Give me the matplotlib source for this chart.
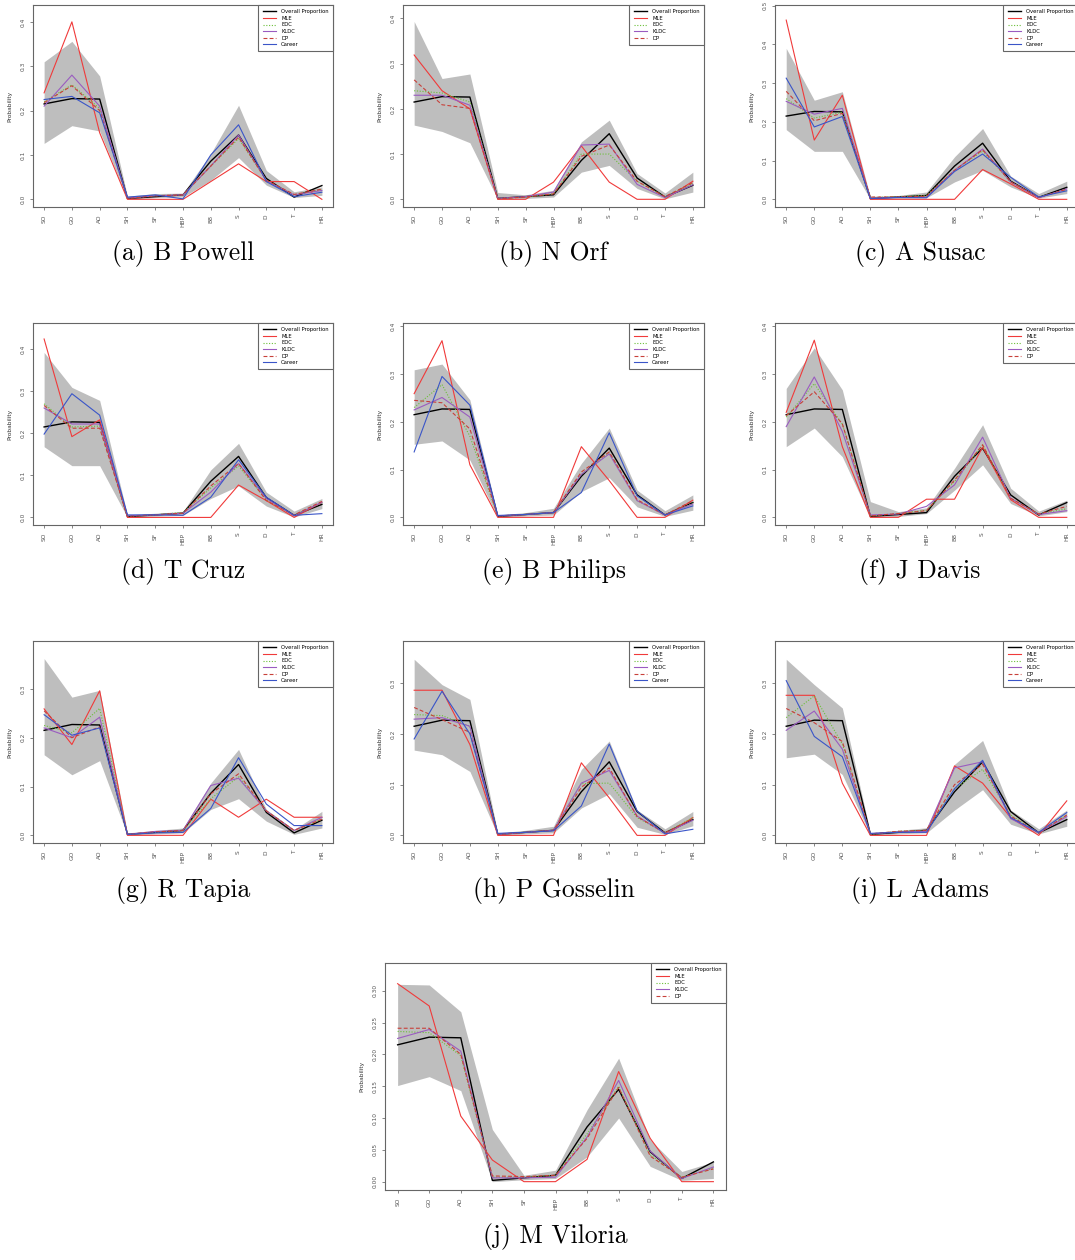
import matplotlib
matplotlib.use("Agg")
import matplotlib.pyplot as plt

cats = ['SO', 'GO', 'AO', 'SH', 'SF', 'HBP', 'BB', 'S', 'D', 'T', 'HR']
overall = [0.215, 0.227, 0.226, 0.002, 0.006, 0.010, 0.086, 0.145, 0.047, 0.005, 0.031]

# (a) B Powell
powell_lo = [0.126, 0.166, 0.154, 0.000, 0.004, 0.005, 0.043, 0.094, 0.032, 0.004, 0.009]
powell_hi = [0.310, 0.356, 0.278, 0.007, 0.013, 0.014, 0.103, 0.212, 0.065, 0.017, 0.028]
powell_mle = [0.240, 0.400, 0.150, 0.000, 0.000, 0.000, 0.040, 0.080, 0.040, 0.040, 0.000]
powell_edc = [0.220, 0.258, 0.205, 0.003, 0.008, 0.010, 0.075, 0.137, 0.043, 0.010, 0.022]
powell_kldc = [0.210, 0.280, 0.210, 0.003, 0.008, 0.010, 0.075, 0.145, 0.042, 0.010, 0.020]
powell_dp = [0.218, 0.256, 0.200, 0.002, 0.008, 0.010, 0.075, 0.140, 0.043, 0.011, 0.023]
powell_career = [0.225, 0.232, 0.195, 0.005, 0.010, 0.001, 0.100, 0.168, 0.040, 0.006, 0.016]

# (b) N Orf
orf_lo = [0.164, 0.150, 0.125, 0.000, 0.002, 0.005, 0.060, 0.075, 0.024, 0.001, 0.016]
orf_hi = [0.393, 0.267, 0.277, 0.015, 0.010, 0.020, 0.127, 0.175, 0.057, 0.014, 0.060]
orf_mle = [0.319, 0.240, 0.200, 0.000, 0.000, 0.038, 0.118, 0.038, 0.000, 0.000, 0.040]
orf_edc = [0.240, 0.235, 0.215, 0.002, 0.005, 0.012, 0.100, 0.100, 0.040, 0.005, 0.035]
orf_kldc = [0.230, 0.230, 0.208, 0.002, 0.006, 0.016, 0.120, 0.122, 0.033, 0.004, 0.032]
orf_dp = [0.264, 0.209, 0.201, 0.001, 0.005, 0.012, 0.095, 0.120, 0.040, 0.006, 0.037]

# (c) A Susac
susac_lo = [0.180, 0.124, 0.124, 0.000, 0.002, 0.004, 0.045, 0.075, 0.032, 0.003, 0.015]
susac_hi = [0.390, 0.256, 0.278, 0.006, 0.010, 0.019, 0.110, 0.183, 0.060, 0.015, 0.047]
susac_mle = [0.463, 0.153, 0.269, 0.000, 0.000, 0.000, 0.000, 0.077, 0.040, 0.000, 0.000]
susac_edc = [0.260, 0.210, 0.225, 0.005, 0.007, 0.010, 0.075, 0.125, 0.045, 0.006, 0.025]
susac_kldc = [0.253, 0.220, 0.235, 0.003, 0.005, 0.005, 0.075, 0.130, 0.045, 0.004, 0.027]
susac_dp = [0.279, 0.203, 0.222, 0.006, 0.006, 0.008, 0.075, 0.128, 0.045, 0.005, 0.026]
susac_career = [0.313, 0.187, 0.214, 0.002, 0.005, 0.004, 0.072, 0.117, 0.057, 0.006, 0.022]

# (d) T Cruz
cruz_lo = [0.168, 0.123, 0.123, 0.000, 0.003, 0.005, 0.045, 0.075, 0.027, 0.001, 0.021]
cruz_hi = [0.392, 0.309, 0.278, 0.006, 0.010, 0.014, 0.113, 0.176, 0.060, 0.015, 0.045]
cruz_mle = [0.424, 0.192, 0.232, 0.000, 0.000, 0.000, 0.000, 0.077, 0.040, 0.000, 0.036]
cruz_edc = [0.270, 0.215, 0.217, 0.003, 0.006, 0.012, 0.070, 0.122, 0.042, 0.005, 0.035]
cruz_kldc = [0.260, 0.222, 0.222, 0.004, 0.006, 0.010, 0.060, 0.128, 0.045, 0.004, 0.036]
cruz_dp = [0.266, 0.212, 0.212, 0.003, 0.006, 0.010, 0.075, 0.128, 0.040, 0.006, 0.038]
cruz_career = [0.198, 0.294, 0.243, 0.006, 0.006, 0.005, 0.048, 0.137, 0.048, 0.005, 0.009]

# (e) B Philips
philips_lo = [0.153, 0.160, 0.120, 0.000, 0.003, 0.005, 0.054, 0.083, 0.022, 0.002, 0.015]
philips_hi = [0.309, 0.321, 0.246, 0.005, 0.010, 0.019, 0.113, 0.187, 0.057, 0.014, 0.047]
philips_mle = [0.259, 0.370, 0.110, 0.000, 0.000, 0.000, 0.148, 0.077, 0.000, 0.000, 0.036]
philips_edc = [0.230, 0.278, 0.170, 0.003, 0.006, 0.010, 0.090, 0.135, 0.035, 0.005, 0.030]
philips_kldc = [0.225, 0.251, 0.210, 0.003, 0.006, 0.010, 0.090, 0.133, 0.035, 0.005, 0.028]
philips_dp = [0.245, 0.240, 0.185, 0.003, 0.006, 0.010, 0.095, 0.137, 0.037, 0.005, 0.035]
philips_career = [0.137, 0.295, 0.235, 0.004, 0.006, 0.010, 0.052, 0.177, 0.045, 0.005, 0.024]

# (f) J Davis
davis_lo = [0.148, 0.187, 0.127, 0.000, 0.002, 0.008, 0.057, 0.110, 0.029, 0.003, 0.012]
davis_hi = [0.270, 0.355, 0.267, 0.033, 0.012, 0.020, 0.103, 0.194, 0.061, 0.013, 0.036]
davis_mle = [0.220, 0.371, 0.148, 0.000, 0.000, 0.038, 0.038, 0.147, 0.037, 0.000, 0.000]
davis_edc = [0.210, 0.280, 0.195, 0.003, 0.008, 0.015, 0.075, 0.152, 0.040, 0.007, 0.018]
davis_kldc = [0.190, 0.294, 0.180, 0.005, 0.007, 0.023, 0.068, 0.168, 0.040, 0.006, 0.014]
davis_dp = [0.213, 0.263, 0.196, 0.003, 0.008, 0.014, 0.078, 0.152, 0.040, 0.007, 0.023]

# (g) R Tapia
tapia_lo = [0.165, 0.124, 0.153, 0.000, 0.003, 0.005, 0.053, 0.075, 0.029, 0.002, 0.015]
tapia_hi = [0.362, 0.283, 0.297, 0.005, 0.010, 0.015, 0.107, 0.176, 0.053, 0.012, 0.049]
tapia_mle = [0.259, 0.186, 0.296, 0.000, 0.000, 0.000, 0.074, 0.037, 0.074, 0.037, 0.037]
tapia_edc = [0.225, 0.210, 0.260, 0.002, 0.006, 0.010, 0.075, 0.120, 0.050, 0.010, 0.033]
tapia_kldc = [0.220, 0.200, 0.242, 0.002, 0.008, 0.010, 0.102, 0.117, 0.050, 0.010, 0.037]
tapia_dp = [0.255, 0.200, 0.222, 0.002, 0.007, 0.010, 0.085, 0.126, 0.050, 0.010, 0.033]
tapia_career = [0.247, 0.205, 0.220, 0.002, 0.005, 0.006, 0.055, 0.159, 0.064, 0.020, 0.020]

# (h) P Gosselin
gosselin_lo = [0.168, 0.159, 0.126, 0.000, 0.003, 0.005, 0.054, 0.082, 0.016, 0.002, 0.019]
gosselin_hi = [0.347, 0.297, 0.268, 0.005, 0.010, 0.018, 0.130, 0.186, 0.050, 0.013, 0.047]
gosselin_mle = [0.286, 0.286, 0.179, 0.000, 0.000, 0.000, 0.143, 0.074, 0.000, 0.000, 0.035]
gosselin_edc = [0.238, 0.236, 0.215, 0.002, 0.006, 0.010, 0.102, 0.103, 0.035, 0.005, 0.035]
gosselin_kldc = [0.229, 0.232, 0.215, 0.002, 0.006, 0.010, 0.103, 0.128, 0.038, 0.004, 0.030]
gosselin_dp = [0.252, 0.228, 0.203, 0.002, 0.006, 0.010, 0.095, 0.133, 0.037, 0.005, 0.033]
gosselin_career = [0.190, 0.284, 0.200, 0.004, 0.006, 0.009, 0.058, 0.180, 0.048, 0.003, 0.012]

# (i) L Adams
adams_lo = [0.153, 0.160, 0.120, 0.000, 0.003, 0.005, 0.050, 0.090, 0.022, 0.003, 0.018]
adams_hi = [0.347, 0.297, 0.251, 0.005, 0.010, 0.015, 0.140, 0.187, 0.050, 0.013, 0.050]
adams_mle = [0.276, 0.276, 0.103, 0.000, 0.000, 0.000, 0.137, 0.103, 0.035, 0.000, 0.068]
adams_edc = [0.232, 0.275, 0.180, 0.002, 0.008, 0.010, 0.092, 0.130, 0.040, 0.005, 0.040]
adams_kldc = [0.207, 0.245, 0.170, 0.003, 0.007, 0.008, 0.133, 0.145, 0.033, 0.005, 0.037]
adams_dp = [0.250, 0.222, 0.185, 0.003, 0.008, 0.010, 0.100, 0.140, 0.038, 0.005, 0.040]
adams_career = [0.305, 0.195, 0.155, 0.004, 0.006, 0.006, 0.092, 0.148, 0.035, 0.006, 0.045]

# (j) M Viloria
viloria_lo = [0.151, 0.165, 0.143, 0.000, 0.003, 0.005, 0.039, 0.100, 0.024, 0.002, 0.005]
viloria_hi = [0.310, 0.309, 0.267, 0.082, 0.010, 0.018, 0.113, 0.194, 0.066, 0.016, 0.031]
viloria_mle = [0.311, 0.276, 0.103, 0.034, 0.000, 0.000, 0.035, 0.173, 0.068, 0.000, 0.000]
viloria_edc = [0.236, 0.234, 0.198, 0.007, 0.007, 0.010, 0.075, 0.150, 0.042, 0.007, 0.021]
viloria_kldc = [0.225, 0.239, 0.205, 0.006, 0.006, 0.007, 0.070, 0.159, 0.048, 0.005, 0.023]
viloria_dp = [0.241, 0.241, 0.200, 0.009, 0.008, 0.010, 0.068, 0.148, 0.040, 0.007, 0.020]

# 面板位置 (像素): 左, 右, 上, 下 ; y 轴范围 ; 刻度
panels = [
    ('(a) B Powell', (33, 333, 5, 207), (-0.0173, 0.438), [0, 0.1, 0.2, 0.3, 0.4],
     powell_lo, powell_hi, powell_mle, powell_edc, powell_kldc, powell_dp, powell_career),
    ('(b) N Orf', (403, 704, 5, 207), (-0.017, 0.4295), [0, 0.1, 0.2, 0.3, 0.4],
     orf_lo, orf_hi, orf_mle, orf_edc, orf_kldc, orf_dp, None),
    ('(c) A Susac', (775, 1078, 5, 207), (-0.0198, 0.502), [0, 0.1, 0.2, 0.3, 0.4, 0.5],
     susac_lo, susac_hi, susac_mle, susac_edc, susac_kldc, susac_dp, susac_career),
    ('(d) T Cruz', (33, 333, 323, 525), (-0.018, 0.462), [0, 0.1, 0.2, 0.3, 0.4],
     cruz_lo, cruz_hi, cruz_mle, cruz_edc, cruz_kldc, cruz_dp, cruz_career),
    ('(e) B Philips', (403, 704, 323, 525), (-0.016, 0.407), [0, 0.1, 0.2, 0.3, 0.4],
     philips_lo, philips_hi, philips_mle, philips_edc, philips_kldc, philips_dp, philips_career),
    ('(f) J Davis', (775, 1078, 323, 525), (-0.016, 0.407), [0, 0.1, 0.2, 0.3, 0.4],
     davis_lo, davis_hi, davis_mle, davis_edc, davis_kldc, davis_dp, None),
    ('(g) R Tapia', (33, 333, 641, 843), (-0.0157, 0.398), [0, 0.1, 0.2, 0.3],
     tapia_lo, tapia_hi, tapia_mle, tapia_edc, tapia_kldc, tapia_dp, tapia_career),
    ('(h) P Gosselin', (403, 704, 641, 843), (-0.015, 0.383), [0, 0.1, 0.2, 0.3],
     gosselin_lo, gosselin_hi, gosselin_mle, gosselin_edc, gosselin_kldc, gosselin_dp, gosselin_career),
    ('(i) L Adams', (775, 1078, 641, 843), (-0.015, 0.383), [0, 0.1, 0.2, 0.3],
     adams_lo, adams_hi, adams_mle, adams_edc, adams_kldc, adams_dp, adams_career),
    ('(j) M Viloria', (385, 726, 963, 1190), (-0.0131, 0.3435), [0, 0.05, 0.1, 0.15, 0.2, 0.25, 0.3],
     viloria_lo, viloria_hi, viloria_mle, viloria_edc, viloria_kldc, viloria_dp, None),
]

W, H = 1075, 1260
fig = plt.figure(figsize=(W / 100, H / 100), dpi=100)

x = list(range(len(cats)))
for (title, box, ylim, yticks, lo, hi, mle, edc, kldc, dp, career) in panels:
    x0, x1, y0, y1 = box
    ax = fig.add_axes([x0 / W, 1 - y1 / H, (x1 - x0) / W, (y1 - y0) / H])
    ax.fill_between(x, lo, hi, color='#bebebe', lw=0, zorder=1)
    ax.plot(x, overall, color='black', lw=1.0, label='Overall Proportion', zorder=3)
    ax.plot(x, mle, color='#f03a3a', lw=0.8, label='MLE', zorder=3)
    ax.plot(x, edc, color='#6cbf3a', lw=0.8, ls=(0, (1, 1.5)), label='EDC', zorder=3)
    ax.plot(x, kldc, color='#9a5cc0', lw=0.8, label='KLDC', zorder=3)
    ax.plot(x, dp, color='#c8403a', lw=0.8, ls=(0, (3.5, 2)), label='DP', zorder=3)
    if career is not None:
        ax.plot(x, career, color='#3a55c8', lw=0.8, label='Career', zorder=3)

    ax.set_xlim(-0.4, 10.4)
    ax.set_ylim(*ylim)
    ax.set_xticks(x)
    ax.set_xticklabels(cats, rotation=90, fontsize=4.2, color='#333333')
    ax.set_yticks(yticks)
    if title.startswith('(j)'):
        ax.set_yticklabels(['%.2f' % v for v in yticks], rotation=90, va='center', fontsize=4.2, color='#333333')
    else:
        ax.set_yticklabels(['%.1f' % v for v in yticks], rotation=90, va='center', fontsize=4.2, color='#333333')
    ax.tick_params(length=2.5, width=0.5, colors='#555555', pad=3)
    ax.set_ylabel('Probability', fontsize=4.2, color='#333333', labelpad=6)
    for s in ax.spines.values():
        s.set_color('#666666')
        s.set_linewidth(0.8)

    leg = ax.legend(loc='upper right', borderaxespad=0, fontsize=3.8, handlelength=2.6,
                    labelspacing=0.3, fancybox=False, framealpha=1, borderpad=0.8,
                    handletextpad=0.9)
    leg.get_frame().set_edgecolor('#666666')
    leg.get_frame().set_linewidth(0.8)

    cx = (x0 + x1) / 2 / W
    if title.startswith('(c)') or title.startswith('(f)') or title.startswith('(i)'):
        cx = 920 / W
    cy = 1 - (y1 + 47) / H
    fig.text(cx, cy, title, ha='center', va='center', fontsize=18.5,
             family=['cmr10', 'DejaVu Serif'])

fig.savefig('out.png', dpi=100)
